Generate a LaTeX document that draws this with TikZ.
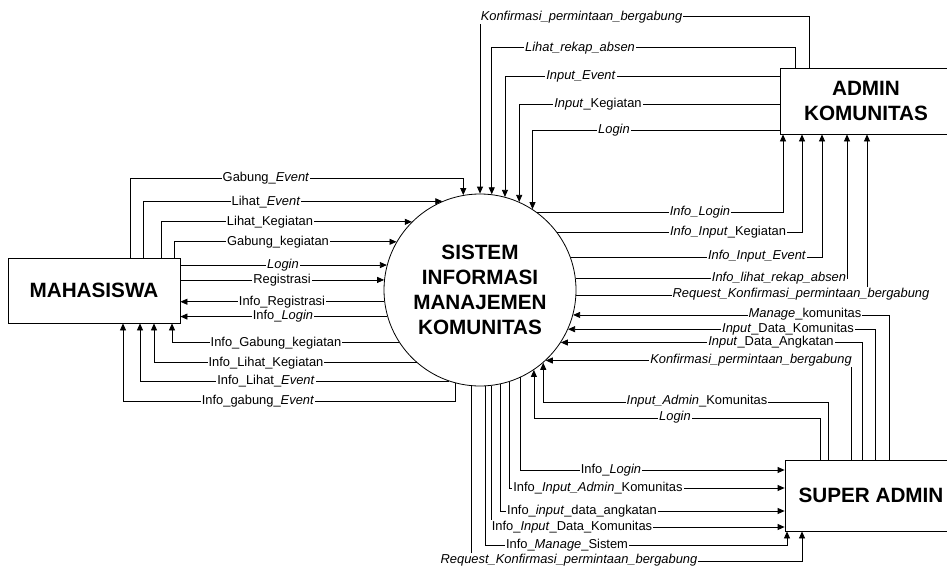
\documentclass[tikz,border=0pt]{standalone}
\usepackage{fontspec}
\setmainfont{Liberation Sans}
\usetikzlibrary{arrows.meta}
\tikzset{
  entity/.style={draw, line width=0.8pt, fill=white, minimum width=172pt,
    align=center, font=\fontsize{20.7}{25}\selectfont\bfseries},
  process/.style={draw, circle, line width=0.8pt, fill=white, minimum size=192pt,
    inner sep=0pt, align=center, font=\fontsize{20.7}{25}\selectfont\bfseries},
  flow/.style={line width=0.8pt, -{Triangle[length=7pt,width=6pt]}},
  lbl/.style={fill=white, inner sep=1pt, font=\fontsize{12.9}{14}\selectfont}
}

\begin{document}
\begin{tikzpicture}[x=1pt,y=-1pt]
  \useasboundingbox (0,0) rectangle (947,567);
  \node[process] (Sys) at (480,290) {SISTEM\\INFORMASI\\MANAJEMEN\\KOMUNITAS};
  \node[entity, minimum height=65pt] (Mhs) at (94,290.5) {MAHASISWA};
  \node[entity, minimum height=66pt] (Adm) at (866,101) {ADMIN\\KOMUNITAS};
  \node[entity, minimum height=71pt] (Sup) at (871,495.5) {SUPER ADMIN};

  \draw[flow] ([xshift=36pt]Mhs.north) |- ([yshift=17pt]Sys.100) -- (Sys.100);
  \draw[flow] ([xshift=49pt]Mhs.north) |- (Sys.113.5);
  \draw[flow] ([xshift=67pt]Mhs.north) |- (Sys.135);
  \draw[flow] ([xshift=80pt]Mhs.north) |- (Sys.150);
  \draw[flow] (Mhs.east |- Sys.165) -- (Sys.165);
  \draw[flow] (Mhs.east |- Sys.174) -- (Sys.174);
  \draw[flow] (Sys.187) -- (Mhs.east |- Sys.187);
  \draw[flow] (Sys.196) -- (Mhs.east |- Sys.196);
  \draw[flow] (Sys.213.5) -| ([xshift=78pt]Mhs.south);
  \draw[flow] (Sys.229.5) -| ([xshift=60pt]Mhs.south);
  \draw[flow] (Sys.251.4) -| ([xshift=46pt]Mhs.south);
  \draw[flow] (Sys.255) -- ([yshift=-18pt]Sys.255) -| ([xshift=29pt]Mhs.south);

  \draw[flow] ([xshift=-57pt]Adm.north) |- ([yshift=177pt]Sys.90) -- (Sys.90);
  \draw[flow] ([xshift=-71pt]Adm.north) |- ([yshift=147pt]Sys.83) -- (Sys.83);
  \draw[flow] ([yshift=25pt]Adm.west) -| (Sys.75.5);
  \draw[flow] ([yshift=-3pt]Adm.west) -| (Sys.66.7);
  \draw[flow] ([yshift=-29pt]Adm.west) -| (Sys.57.2);
  \draw[flow] (Sys.54.3) -| ([xshift=-83pt]Adm.south);
  \draw[flow] (Sys.37.2) -| ([xshift=-64pt]Adm.south);
  \draw[flow] (Sys.20.7) -| ([xshift=-44pt]Adm.south);
  \draw[flow] (Sys.7.2) -| ([xshift=-19pt]Adm.south);
  \draw[flow] (Sys.357.6) -| ([xshift=1pt]Adm.south);

  \draw[flow] ([xshift=18pt]Sup.north) |- (Sys.345.5);
  \draw[flow] ([xshift=4pt]Sup.north) |- (Sys.336);
  \draw[flow] ([xshift=-9pt]Sup.north) |- (Sys.327.2);
  \draw[flow] ([xshift=-20pt]Sup.north) |- (Sys.313.2);
  \draw[flow] ([xshift=-43pt]Sup.north) |- ([yshift=-40pt]Sys.311.8) -- (Sys.311.8);
  \draw[flow] ([xshift=-51pt]Sup.north) |- ([yshift=-48pt]Sys.304.2) -- (Sys.304.2);
  \draw[flow] (Sys.295.9) |- ([yshift=25.5pt]Sup.west);
  \draw[flow] (Sys.288.2) |- ([yshift=7.5pt]Sup.west);
  \draw[flow] (Sys.282) |- ([yshift=-15.5pt]Sup.west);
  \draw[flow] (Sys.277.8) |- ([yshift=-31.5pt]Sup.west);
  \draw[flow] (Sys.273) |- ([xshift=-84pt,yshift=-14pt]Sup.south) -- ([xshift=-84pt]Sup.south);
  \draw[flow] (Sys.265.2) |- ([xshift=-69pt,yshift=-30pt]Sup.south) -- ([xshift=-69pt]Sup.south);

  \foreach \lx/\ly/\ltext [count=\i] in {
    266/178.5/{Gabung\_\textit{Event}},
    266/202/{Lihat\_\textit{Event}},
    270/222/{Lihat\_Kegiatan},
    278/242/{Gabung\_kegiatan},
    283/265.2/{\textit{Login}},
    282/280/{Registrasi},
    282/301.7/{Info\_Registrasi},
    283/316.5/{Info\_\textit{Login}},
    276/343/{Info\_Gabung\_kegiatan},
    266/363/{Info\_Lihat\_Kegiatan},
    266/381/{Info\_Lihat\_\textit{Event}},
    258/400.7/{Info\_gabung\_\textit{Event}},
    581.5/17/{\textit{Konfirmasi\_permintaan\_bergabung}},
    580/48/{\textit{Lihat\_rekap\_absen}},
    581/76/{\textit{Input\_Event}},
    598/104/{\textit{Input}\_Kegiatan},
    614/130/{\textit{Login}},
    700/212/{\textit{Info\_Login}},
    728/232/{\textit{Info\_Input}\_Kegiatan},
    757/256/{\textit{Info\_Input\_Event}},
    779/278/{\textit{Info\_lihat\_rekap\_absen}},
    801/294/{\textit{Request\_Konfirmasi\_permintaan\_bergabung}},
    805/314/{\textit{Manage}\_komunitas},
    788/329/{\textit{Input}\_Data\_Komunitas},
    771/342/{\textit{Input}\_Data\_Angkatan},
    751/360/{\textit{Konfirmasi\_permintaan\_bergabung}},
    697/401.6/{\textit{Input\_Admin}\_Komunitas},
    675/417.4/{\textit{Login}},
    611/470/{Info\_\textit{Login}},
    598/488/{Info\_\textit{Input\_Admin}\_Komunitas},
    582/511/{Info\_\textit{input}\_data\_angkatan},
    572/527/{Info\_\textit{Input}\_Data\_Komunitas},
    567/545/{Info\_\textit{Manage}\_Sistem},
    569/560/{\textit{Request\_Konfirmasi\_permintaan\_bergabung}}}
    \node[lbl] (L\i) at (\lx,\ly) {\ltext};
\end{tikzpicture}
\end{document}
